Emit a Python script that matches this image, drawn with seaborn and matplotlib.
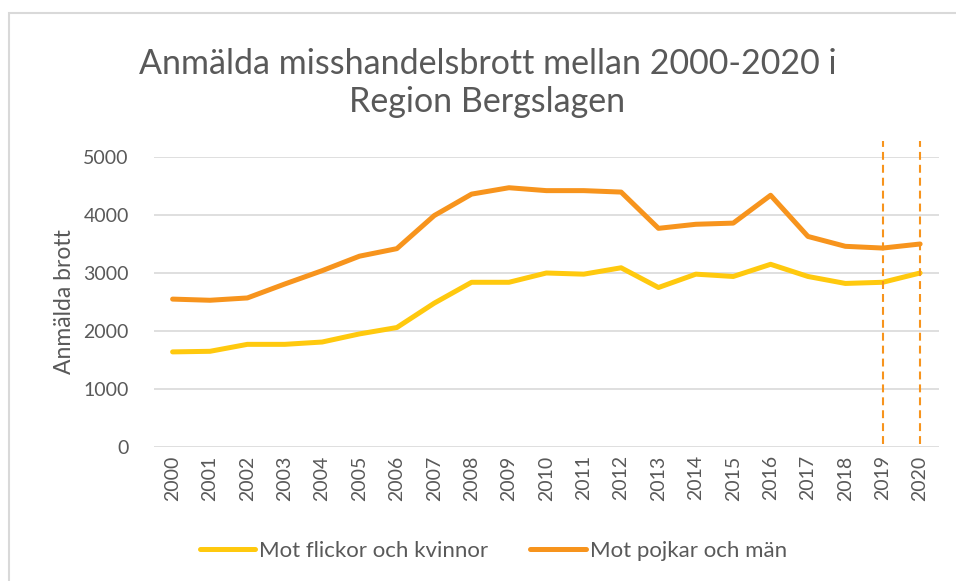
import pandas as pd
import matplotlib.pyplot as plt
import seaborn as sns
from matplotlib.patches import Rectangle

# Data
years = list(range(2000, 2021))
flickor_kvinnor = [1640, 1650, 1770, 1770, 1810, 1950, 2060, 2480, 2840, 2840,
                   3000, 2980, 3090, 2750, 2980, 2940, 3150, 2940, 2820, 2840, 3000]
pojkar_man = [2550, 2530, 2570, 2810, 3040, 3290, 3420, 3990, 4360, 4470,
              4420, 4420, 4395, 3770, 3840, 3860, 4340, 3630, 3460, 3430, 3500]
series_names = ["Mot flickor och kvinnor", "Mot pojkar och män"]
marked_years = [2019, 2020]

df = pd.DataFrame({
    "år": years * 2,
    "antal": flickor_kvinnor + pojkar_man,
    "grupp": [series_names[0]] * len(years) + [series_names[1]] * len(years),
})

sns.set_theme(style="white")
plt.rcParams["font.family"] = ["Lato", "DejaVu Sans"]
text_col = "#595959"
yellow = "#FFC90E"
orange = "#F7941D"

fig = plt.figure(figsize=(9.56, 5.81), dpi=100)
ax = fig.add_axes([0.161, 0.2306, 0.821, 0.4992])

sns.lineplot(data=df, x="år", y="antal", hue="grupp", palette=[yellow, orange],
             linewidth=3.6, ax=ax, legend=True)
for line in ax.get_lines():
    line.set_solid_capstyle("round")

# streckade markeringar för 2019 och 2020
for yr in marked_years:
    ax.plot([yr, yr], [60, 5270], color=orange, linestyle=(0, (3.8, 2.4)),
            linewidth=1.5, clip_on=False, zorder=3)

ax.set_xlim(1999.5, 2020.5)
ax.set_ylim(0, 5000)
ax.set_yticks(range(0, 5001, 1000))
ax.set_xticks(years)
ax.set_xticklabels([str(y) for y in years], rotation=90)
ax.grid(axis="y", color="#D9D9D9", linewidth=1.2)
ax.set_axisbelow(True)
for s in ax.spines.values():
    s.set_visible(False)
ax.tick_params(axis="both", length=0, labelsize=14, colors=text_col, pad=6)
ax.tick_params(axis="y", pad=18)
ax.set_xlabel("")
ax.set_ylabel("Anmälda brott", fontsize=16.5, color=text_col, labelpad=6)

fig.text(0.51, 0.857, "Anmälda misshandelsbrott mellan 2000-2020 i\nRegion Bergslagen",
         ha="center", va="center", fontsize=24.5, color=text_col, linespacing=1.25)

handles, labels = ax.get_legend_handles_labels()
ax.legend(handles, labels, loc="center", bbox_to_anchor=(0.516, 0.052),
          bbox_transform=fig.transFigure, ncol=2, frameon=False, fontsize=16,
          handlelength=2.5, handletextpad=0.18, columnspacing=1.9,
          labelcolor=text_col)
for h in ax.get_legend().get_lines():
    h.set_linewidth(3.6)
    h.set_solid_capstyle("round")

fig.patches.append(Rectangle((9 / 956, -0.1), 1.1, (581 - 13) / 581 + 0.1,
                             transform=fig.transFigure, fill=False,
                             edgecolor="#D9D9D9", linewidth=1.5))

fig.savefig("out.png", dpi=100)
